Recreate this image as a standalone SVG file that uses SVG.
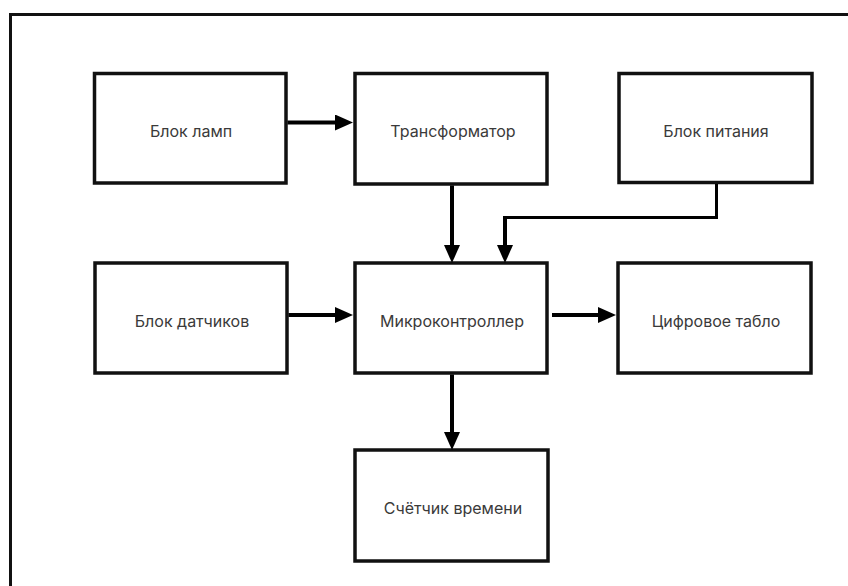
<svg xmlns="http://www.w3.org/2000/svg" width="848" height="586" viewBox="0 0 848 586">
  <style>
    .box rect { fill: #ffffff; stroke: #111111; stroke-width: 3.5; }
    .box text { font-family: Inter, "Noto Sans", "Liberation Sans", sans-serif; font-size: 16px; fill: #3a3a3a; text-anchor: middle; }
    .wire { fill: none; stroke: #000000; stroke-width: 4; }
    .thin { stroke-width: 3; }
  </style>
  <defs>
    <marker id="arrow" markerUnits="userSpaceOnUse" markerWidth="18" markerHeight="16" refX="4" refY="8" orient="auto">
      <path d="M0,0 L18,8 L0,16 Z" fill="#000000"/>
    </marker>
  </defs>

  <rect width="848" height="586" fill="#ffffff"/>
  <!-- outer frame -->
  <rect x="10.5" y="14.5" width="860" height="600" fill="none" stroke="#111111" stroke-width="3"/>

  <g id="lamp-block" class="box">
    <rect x="94.5" y="73.5" width="191.5" height="109.5"/>
    <text x="191" y="137">Блок ламп</text>
  </g>
  <g id="transformer" class="box">
    <rect x="355" y="73.5" width="192" height="110.5"/>
    <text x="453" y="137">Трансформатор</text>
  </g>
  <g id="power-supply" class="box">
    <rect x="619" y="73.5" width="193" height="109"/>
    <text x="716" y="137">Блок питания</text>
  </g>
  <g id="sensor-block" class="box">
    <rect x="95" y="263" width="192" height="110"/>
    <text x="192" y="327">Блок датчиков</text>
  </g>
  <g id="microcontroller" class="box">
    <rect x="355" y="263" width="192" height="110"/>
    <text x="452" y="327">Микроконтроллер</text>
  </g>
  <g id="display" class="box">
    <rect x="618" y="263" width="193" height="110"/>
    <text x="716" y="327">Цифровое табло</text>
  </g>
  <g id="timer" class="box">
    <rect x="355" y="450" width="193" height="111"/>
    <text x="453" y="514">Счётчик времени</text>
  </g>

  <g id="connectors">
    <path class="wire" d="M287.5,122.5 H339" marker-end="url(#arrow)"/>
    <path class="wire" d="M452,185.5 V249" marker-end="url(#arrow)"/>
    <path class="wire thin" d="M716.5,184 V217.5 H505"/>
    <path class="wire" d="M505,216 V249" marker-end="url(#arrow)"/>
    <path class="wire" d="M288.5,315 H339" marker-end="url(#arrow)"/>
    <path class="wire" d="M552,315 H602" marker-end="url(#arrow)"/>
    <path class="wire" d="M452,374.5 V436" marker-end="url(#arrow)"/>
  </g>
</svg>
